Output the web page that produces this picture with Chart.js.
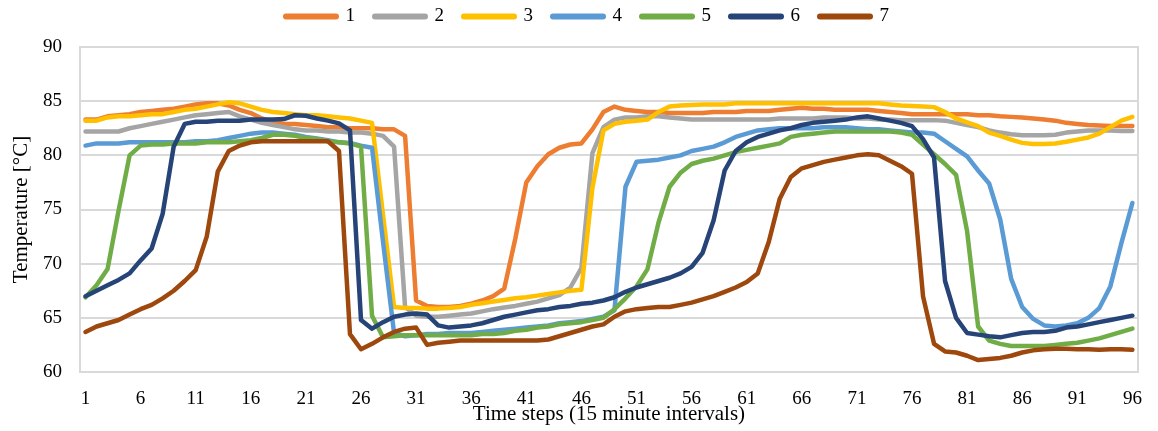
<!DOCTYPE html>
<html>
<head>
<meta charset="utf-8">
<script src="https://cdn.jsdelivr.net/npm/chart.js@4.4.1/dist/chart.umd.min.js"></script>
<style>
  html, body { margin: 0; padding: 0; background: #ffffff; }
  #wrap { width: 1158px; height: 431px; }
</style>
</head>
<body>
<div id="wrap"><canvas id="c" width="1158" height="431"></canvas></div>
<script>
// Time steps (15 minute intervals), 1..96
const timeSteps = Array.from({ length: 96 }, (_, i) => String(i + 1));
const seriesNames = ['1', '2', '3', '4', '5', '6', '7'];
const yTicks = [60, 65, 70, 75, 80, 85, 90];

// Temperature [°C] per time step
const temp1 = [
  83.3, 83.3, 83.6, 83.7, 83.8, 84.0, 84.1, 84.2, 84.3, 84.5,
  84.7, 84.8, 84.8, 84.6, 84.2, 83.9, 83.4, 83.1, 82.9, 82.9,
  82.8, 82.7, 82.6, 82.6, 82.5, 82.5, 82.5, 82.4, 82.4, 81.8,
  66.6, 66.1, 66.0, 66.0, 66.1, 66.3, 66.6, 67.0, 67.7, 72.3,
  77.5, 79.0, 80.1, 80.7, 81.0, 81.1, 82.4, 84.0, 84.5, 84.2,
  84.1, 84.0, 84.0, 83.9, 83.9, 83.9, 83.9, 84.0, 84.0, 84.0,
  84.1, 84.1, 84.1, 84.2, 84.3, 84.4, 84.3, 84.3, 84.2, 84.2,
  84.2, 84.2, 84.1, 84.0, 83.9, 83.8, 83.8, 83.8, 83.8, 83.8,
  83.8, 83.7, 83.7, 83.6, 83.55, 83.5, 83.4, 83.3, 83.2, 83.0,
  82.9, 82.8, 82.75, 82.7, 82.7, 82.7
];
const temp2 = [
  82.2, 82.2, 82.2, 82.2, 82.5, 82.7, 82.9, 83.1, 83.3, 83.5,
  83.7, 83.8, 83.9, 84.0, 83.6, 83.3, 83.0, 82.8, 82.6, 82.4,
  82.3, 82.3, 82.2, 82.2, 82.1, 82.1, 82.0, 81.8, 80.8, 66.0,
  65.2, 65.1, 65.1, 65.2, 65.3, 65.4, 65.6, 65.8, 65.95, 66.1,
  66.3, 66.5, 66.8, 67.1, 67.8, 69.6, 80.2, 82.6, 83.3, 83.5,
  83.5, 83.6, 83.6, 83.5, 83.4, 83.3, 83.3, 83.3, 83.3, 83.3,
  83.3, 83.3, 83.3, 83.4, 83.4, 83.4, 83.4, 83.5, 83.5, 83.5,
  83.4, 83.4, 83.3, 83.3, 83.25, 83.25, 83.25, 83.25, 83.2, 83.0,
  82.8, 82.6, 82.3, 82.1, 81.95, 81.85, 81.85, 81.85, 81.9, 82.1,
  82.2, 82.3, 82.3, 82.3, 82.25, 82.25
];
const temp3 = [
  83.2, 83.2, 83.5, 83.6, 83.6, 83.7, 83.8, 83.8, 84.0, 84.2,
  84.3, 84.5, 84.7, 84.9, 84.8, 84.5, 84.2, 84.0, 83.9, 83.8,
  83.7, 83.7, 83.6, 83.5, 83.4, 83.2, 83.0, 74.5, 66.0, 65.9,
  65.9, 65.85, 65.85, 65.9, 66.0, 66.2, 66.35, 66.5, 66.65, 66.8,
  66.9, 67.05, 67.2, 67.35, 67.5, 67.6, 77.0, 82.3, 82.9, 83.1,
  83.2, 83.3, 84.0, 84.5, 84.6, 84.65, 84.7, 84.7, 84.7, 84.8,
  84.8, 84.8, 84.8, 84.8, 84.8, 84.8, 84.8, 84.8, 84.8, 84.8,
  84.8, 84.8, 84.8, 84.7, 84.6, 84.55, 84.5, 84.45, 84.0, 83.4,
  83.05, 82.7, 82.1, 81.8, 81.45, 81.15, 81.05, 81.05, 81.1, 81.25,
  81.45, 81.65, 82.0, 82.6, 83.2, 83.55
];
const temp4 = [
  80.9, 81.1, 81.1, 81.1, 81.2, 81.2, 81.2, 81.2, 81.2, 81.2,
  81.3, 81.3, 81.4, 81.6, 81.8, 82.0, 82.1, 82.1, 82.0, 81.9,
  81.7, 81.55, 81.4, 81.2, 81.15, 80.9, 80.7, 72.0, 63.6, 63.3,
  63.4, 63.5, 63.5, 63.6, 63.6, 63.6, 63.7, 63.8, 63.9, 64.0,
  64.1, 64.2, 64.3, 64.5, 64.6, 64.7, 64.9, 65.1, 65.7, 77.1,
  79.4, 79.5, 79.6, 79.8, 80.0, 80.4, 80.6, 80.8, 81.2, 81.7,
  82.0, 82.3, 82.4, 82.5, 82.5, 82.5, 82.5, 82.6, 82.6, 82.6,
  82.5, 82.4, 82.4, 82.3, 82.2, 82.1, 82.1, 82.0, 81.3, 80.6,
  79.9, 78.6, 77.4, 74.1, 68.6, 66.0, 64.9, 64.3, 64.2, 64.3,
  64.5, 65.0, 65.9, 67.9, 71.9, 75.6
];
const temp5 = [
  66.9, 68.0, 69.5, 74.9, 80.0, 80.9, 81.0, 81.0, 81.1, 81.1,
  81.1, 81.2, 81.2, 81.2, 81.3, 81.4, 81.6, 81.9, 81.9, 81.8,
  81.6, 81.5, 81.3, 81.2, 81.1, 80.8, 65.2, 63.2, 63.3, 63.4,
  63.4, 63.4, 63.4, 63.4, 63.4, 63.4, 63.5, 63.5, 63.6, 63.8,
  63.9, 64.1, 64.2, 64.4, 64.5, 64.6, 64.8, 65.0, 65.8, 66.8,
  67.9, 69.5, 73.8, 77.1, 78.4, 79.2, 79.5, 79.7, 80.0, 80.3,
  80.5, 80.7, 80.9, 81.1, 81.7, 81.9, 82.0, 82.1, 82.2, 82.2,
  82.2, 82.2, 82.2, 82.2, 82.1, 81.9, 81.0, 80.1, 79.2, 78.2,
  73.0, 64.2, 62.9, 62.6, 62.4, 62.4, 62.4, 62.4, 62.5, 62.6,
  62.7, 62.9, 63.1, 63.4, 63.7, 64.0
];
const temp6 = [
  67.0, 67.5, 68.0, 68.5, 69.1, 70.3, 71.4, 74.6, 80.8, 82.9,
  83.1, 83.1, 83.2, 83.2, 83.2, 83.3, 83.3, 83.3, 83.35, 83.7,
  83.65, 83.4, 83.2, 82.95, 82.3, 64.8, 64.0, 64.6, 65.1, 65.3,
  65.4, 65.3, 64.3, 64.1, 64.2, 64.3, 64.5, 64.8, 65.1, 65.3,
  65.5, 65.7, 65.8, 66.0, 66.1, 66.3, 66.4, 66.6, 66.9, 67.4,
  67.8, 68.1, 68.4, 68.7, 69.1, 69.7, 71.0, 74.0, 78.6, 80.4,
  81.2, 81.7, 82.0, 82.3, 82.5, 82.8, 83.0, 83.1, 83.2, 83.3,
  83.5, 83.6, 83.4, 83.2, 83.0, 82.7, 81.5, 79.8, 68.4, 65.0,
  63.6, 63.45, 63.3, 63.2, 63.4, 63.6, 63.7, 63.7, 63.8, 64.1,
  64.2, 64.4, 64.6, 64.8, 65.0, 65.2
];
const temp7 = [
  63.7, 64.2, 64.5, 64.8, 65.3, 65.8, 66.2, 66.8, 67.5, 68.4,
  69.4, 72.5, 78.5, 80.4, 80.9, 81.2, 81.3, 81.3, 81.3, 81.3,
  81.3, 81.3, 81.3, 80.4, 63.5, 62.1, 62.6, 63.2, 63.7, 64.0,
  64.1, 62.5, 62.7, 62.8, 62.9, 62.9, 62.9, 62.9, 62.9, 62.9,
  62.9, 62.9, 63.0, 63.3, 63.6, 63.9, 64.2, 64.4, 65.1, 65.6,
  65.8, 65.9, 66.0, 66.0, 66.2, 66.4, 66.7, 67.0, 67.4, 67.8,
  68.3, 69.1, 72.0, 76.0, 78.0, 78.8, 79.1, 79.4, 79.6, 79.8,
  80.0, 80.1, 80.0, 79.5, 79.0, 78.3, 67.0, 62.6, 61.9, 61.8,
  61.5, 61.1, 61.2, 61.3, 61.5, 61.8, 62.0, 62.1, 62.15, 62.15,
  62.1, 62.1, 62.05, 62.1, 62.1, 62.05
];

const seriesValues = [temp1, temp2, temp3, temp4, temp5, temp6, temp7];
const seriesColors = ['#ED7D31', '#A5A5A5', '#FFC000', '#5B9BD5', '#70AD47', '#264478', '#9E480E'];

const serif = "'Liberation Serif', 'Times New Roman', serif";
const gridColor = '#d9d9d9';

const datasets = seriesValues.map((vals, i) => ({
  label: seriesNames[i],
  data: vals,
  borderColor: seriesColors[i],
  backgroundColor: seriesColors[i],
  borderWidth: 4.5,
  pointRadius: 0,
  pointHoverRadius: 0,
  tension: 0,
  fill: false,
  borderJoinStyle: 'round',
  borderCapStyle: 'round',
  // later series are painted on top
  order: seriesValues.length - i
}));

new Chart(document.getElementById('c'), {
  type: 'line',
  data: { labels: timeSteps, datasets },
  options: {
    responsive: false,
    animation: false,
    devicePixelRatio: 1,
    layout: { padding: { top: -13, left: 0, right: -17, bottom: 0 } },
    plugins: {
      tooltip: { enabled: false },
      legend: {
        position: 'top',
        labels: {
          usePointStyle: true,
          pointStyle: 'line',
          pointStyleWidth: 50,
          padding: 20,
          color: '#000000',
          font: { family: serif, size: 19 },
          sort: (a, b) => a.datasetIndex - b.datasetIndex,
          generateLabels(chart) {
            const items = Chart.defaults.plugins.legend.labels.generateLabels(chart);
            items.forEach(it => {
              it.lineWidth = 6;
              it.lineCap = 'round';
              it.pointStyle = 'line';
            });
            return items;
          }
        }
      }
    },
    scales: {
      x: {
        type: 'category',
        offset: true,
        grid: { display: false, drawTicks: false },
        border: { display: true, color: gridColor, width: 2 },
        ticks: {
          autoSkip: false,
          maxRotation: 0,
          minRotation: 0,
          padding: 16,
          color: '#000000',
          font: { family: serif, size: 19 },
          callback(value, index) { return index % 5 === 0 ? timeSteps[index] : ''; }
        },
        title: {
          display: true,
          text: 'Time steps (15 minute intervals)',
          color: '#000000',
          font: { family: serif, size: 21 },
          padding: { top: 0, bottom: 4 }
        },
        afterFit(scale) { scale.height = 59; }
      },
      xTop: {
        type: 'category',
        position: 'top',
        display: true,
        grid: { display: false, drawTicks: false },
        border: { display: false },
        ticks: { display: false },
        afterFit(scale) { scale.height = 11; }
      },
      y: {
        min: 60,
        max: 90,
        afterBuildTicks(scale) { scale.ticks = yTicks.map(v => ({ value: v })); },
        grid: { color: gridColor, lineWidth: 2, drawTicks: false },
        border: { display: true, color: gridColor, width: 2 },
        ticks: {
          padding: 18,
          color: '#000000',
          font: { family: serif, size: 19 }
        },
        title: {
          display: true,
          text: 'Temperature [°C]',
          color: '#000000',
          font: { family: serif, size: 21 },
          padding: { top: 9, bottom: 0 }
        },
        afterFit(scale) { scale.width = 80; }
      },
      yRight: {
        position: 'right',
        display: true,
        min: 60,
        max: 90,
        grid: { display: false, drawTicks: false },
        border: { display: true, color: gridColor, width: 2 },
        ticks: { display: false },
        afterFit(scale) { scale.width = 29; }
      }
    }
  }
});
</script>
</body>
</html>
